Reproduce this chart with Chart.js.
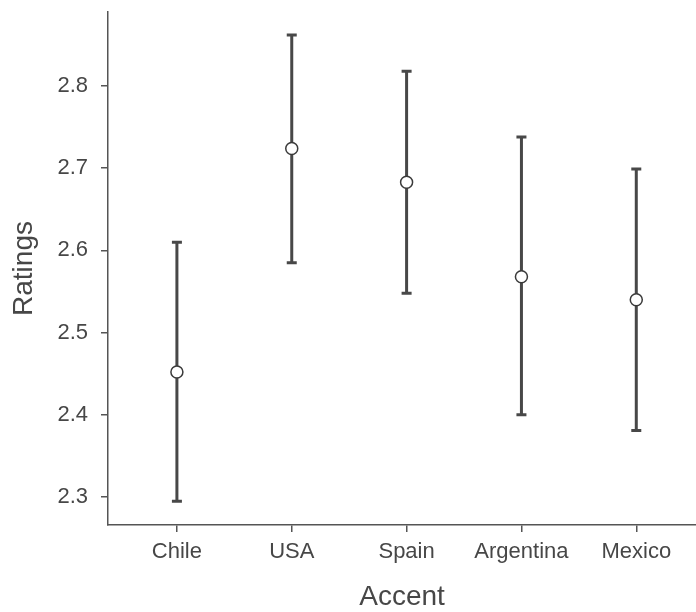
<!DOCTYPE html>
<html>
<head>
<meta charset="utf-8">
<script src="https://cdn.jsdelivr.net/npm/chart.js@4"></script>
<style>
html,body{margin:0;padding:0;background:#fff;}
#wrap{width:696px;height:612px;position:relative;}
</style>
</head>
<body>
<div id="wrap"><canvas id="c"></canvas></div>
<script>
const categories = ["Chile", "USA", "Spain", "Argentina", "Mexico"];
const means = [2.452, 2.724, 2.683, 2.568, 2.540];
const lower = [2.295, 2.585, 2.548, 2.400, 2.381];
const upper = [2.610, 2.862, 2.818, 2.738, 2.699];
const yTicks = [2.3, 2.4, 2.5, 2.6, 2.7, 2.8];

const FONT = 'Liberation Sans, Arial, sans-serif';

const errorBars = {
  id: 'errorBars',
  beforeDatasetsDraw(chart) {
    const ctx = chart.ctx, xs = chart.scales.x, ys = chart.scales.y;
    ctx.save();
    ctx.strokeStyle = '#484848';
    ctx.lineWidth = 3;
    categories.forEach((c, i) => {
      const x = xs.getPixelForValue(i);
      const yl = ys.getPixelForValue(lower[i]);
      const yu = ys.getPixelForValue(upper[i]);
      ctx.beginPath();
      ctx.moveTo(x, yl); ctx.lineTo(x, yu);
      ctx.moveTo(x - 5, yl); ctx.lineTo(x + 5, yl);
      ctx.moveTo(x - 5, yu); ctx.lineTo(x + 5, yu);
      ctx.stroke();
    });
    ctx.restore();
  }
};

new Chart(document.getElementById('c'), {
  type: 'scatter',
  data: {
    datasets: [{
      data: means.map((m, i) => ({x: i, y: m})),
      pointRadius: 6,
      pointHoverRadius: 6,
      pointBackgroundColor: '#ffffff',
      pointBorderColor: '#3a3a3a',
      pointBorderWidth: 1.5
    }]
  },
  options: {
    responsive: true,
    maintainAspectRatio: false,
    animation: false,
    layout: {autoPadding: false, padding: {top: 12, right: 0, left: 0, bottom: 0}},
    plugins: {legend: {display: false}, tooltip: {enabled: false}},
    scales: {
      x: {
        type: 'linear',
        min: -0.6,
        max: 4.52,
        afterBuildTicks(scale) {
          scale.ticks = categories.map((c, i) => ({value: i}));
        },
        afterFit(scale) { scale.height = 87; scale.paddingLeft = 0; scale.paddingRight = 0; },
        ticks: {
          callback: (v) => categories[v] ?? '',
          color: '#474747',
          font: {family: FONT, size: 22},
          padding: 7,
          maxRotation: 0,
          autoSkip: false
        },
        grid: {drawOnChartArea: false, tickLength: 7, color: '#555', lineWidth: 1.5},
        border: {color: '#555', width: 1.5},
        title: {
          display: true, text: 'Accent', color: '#474747',
          font: {family: FONT, size: 28},
          padding: {top: 0, bottom: -2}
        }
      },
      y: {
        type: 'linear',
        min: 2.266,
        max: 2.89,
        afterBuildTicks(scale) {
          scale.ticks = yTicks.map(v => ({value: v}));
        },
        afterFit(scale) { scale.width = 108; scale.paddingTop = 0; scale.paddingBottom = 0; },
        ticks: {
          callback: (v) => v.toFixed(1),
          color: '#474747',
          font: {family: FONT, size: 22},
          padding: 13
        },
        grid: {drawOnChartArea: false, tickLength: 7, color: '#555', lineWidth: 1.5},
        border: {color: '#555', width: 1.5},
        title: {
          display: true, text: 'Ratings', color: '#474747',
          font: {family: FONT, size: 28},
          padding: {top: 7, bottom: 0}
        }
      }
    }
  },
  plugins: [errorBars]
});
</script>
</body>
</html>
